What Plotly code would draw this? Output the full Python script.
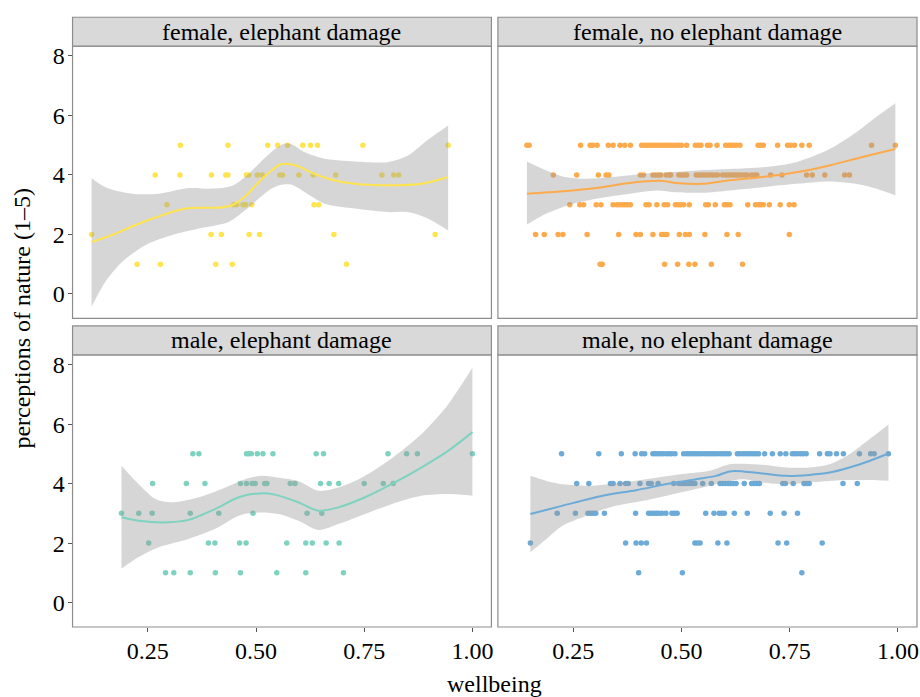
import plotly.graph_objects as go

# ---------------- data ----------------
panel_titles = ["female, elephant damage", "female, no elephant damage",
                "male, elephant damage", "male, no elephant damage"]
panel_colors = ["#FFE44E", "#FDAA4C", "#7DD3BF", "#6CAAD8"]

x_ticks = [0.25, 0.50, 0.75, 1.00]
x_tick_labels = ["0.25", "0.50", "0.75", "1.00"]
y_ticks = [0, 2, 4, 6, 8]
y_tick_labels = ["0", "2", "4", "6", "8"]

# ---- panel 1: female, elephant damage ----
p1_x5 = [0.325, 0.435, 0.527, 0.550, 0.573, 0.608, 0.626, 0.642, 0.747, 0.944]
p1_x4 = [0.267, 0.324, 0.397, 0.430, 0.435, 0.478, 0.483, 0.503, 0.514, 0.555,
         0.561, 0.599, 0.632, 0.684, 0.791, 0.818, 0.830]
p1_x3 = [0.294, 0.448, 0.455, 0.470, 0.476, 0.490, 0.634, 0.645]
p1_x2 = [0.120, 0.396, 0.420, 0.484, 0.508, 0.680, 0.914]
p1_x1 = [0.225, 0.279, 0.407, 0.445, 0.709]
p1_fit_x = [0.120, 0.168, 0.229, 0.337, 0.414, 0.444, 0.475, 0.506, 0.536, 0.556,
            0.575, 0.598, 0.629, 0.675, 0.728, 0.805, 0.882, 0.944]
p1_fit_y = [1.75, 1.98, 2.36, 2.87, 2.90, 2.98, 3.28, 3.76, 4.15, 4.35,
            4.37, 4.29, 4.07, 3.84, 3.70, 3.65, 3.70, 3.93]
p1_up_x = [0.120, 0.152, 0.214, 0.275, 0.345, 0.398, 0.444, 0.475, 0.506, 0.544,
           0.567, 0.586, 0.613, 0.659, 0.728, 0.805, 0.851, 0.890, 0.944]
p1_up_y = [3.89, 3.59, 3.37, 3.37, 3.56, 3.54, 3.63, 3.93, 4.37, 4.87,
           5.06, 5.01, 4.76, 4.54, 4.45, 4.43, 4.65, 5.10, 5.66]
p1_lo_x = [0.120, 0.152, 0.191, 0.244, 0.306, 0.368, 0.437, 0.475, 0.506, 0.536,
           0.559, 0.583, 0.613, 0.659, 0.728, 0.805, 0.851, 0.898, 0.944]
p1_lo_y = [-0.43, 0.41, 1.08, 1.64, 1.98, 2.20, 2.42, 2.81, 3.20, 3.54,
           3.67, 3.67, 3.42, 3.03, 2.87, 2.75, 2.75, 2.53, 2.14]

# ---- panel 2: female, no elephant damage ----
p2_x5 = [0.143, 0.148, 0.267, 0.289, 0.295, 0.305, 0.331, 0.342, 0.358, 0.369,
         0.382, 0.408, 0.414, 0.420, 0.426, 0.432, 0.438, 0.445, 0.451, 0.457,
         0.463, 0.469, 0.475, 0.482, 0.488, 0.494, 0.500, 0.512, 0.532, 0.538,
         0.545, 0.560, 0.566, 0.582, 0.602, 0.608, 0.614, 0.620, 0.626, 0.635,
         0.677, 0.683, 0.689, 0.722, 0.745, 0.752, 0.761, 0.778, 0.795, 0.939, 0.994]
p2_x4 = [0.204, 0.258, 0.308, 0.326, 0.332, 0.405, 0.412, 0.434, 0.440, 0.446,
         0.452, 0.465, 0.471, 0.475, 0.494, 0.500, 0.506, 0.512, 0.534, 0.540,
         0.546, 0.552, 0.558, 0.565, 0.571, 0.577, 0.583, 0.595, 0.602, 0.608,
         0.614, 0.620, 0.626, 0.632, 0.638, 0.645, 0.651, 0.662, 0.668, 0.674,
         0.706, 0.732, 0.789, 0.802, 0.831, 0.877, 0.888]
p2_x3 = [0.242, 0.265, 0.274, 0.303, 0.314, 0.342, 0.351, 0.357, 0.363, 0.369,
         0.375, 0.382, 0.418, 0.425, 0.443, 0.460, 0.468, 0.486, 0.492, 0.498,
         0.505, 0.518, 0.556, 0.562, 0.578, 0.599, 0.605, 0.612, 0.653, 0.671,
         0.677, 0.683, 0.689, 0.703, 0.728, 0.749, 0.760]
p2_x2 = [0.163, 0.183, 0.215, 0.226, 0.282, 0.355, 0.395, 0.405, 0.434, 0.454,
         0.460, 0.466, 0.495, 0.509, 0.518, 0.554, 0.605, 0.631, 0.749]
p2_x1 = [0.312, 0.317, 0.461, 0.491, 0.517, 0.531, 0.569, 0.641]
p2_fit_x = [0.143, 0.226, 0.303, 0.365, 0.411, 0.457, 0.488, 0.549, 0.611, 0.688,
            0.765, 0.842, 0.918, 0.994]
p2_fit_y = [3.37, 3.45, 3.56, 3.70, 3.78, 3.80, 3.73, 3.70, 3.82, 3.93,
            4.09, 4.32, 4.60, 4.87]
p2_up_x = [0.143, 0.188, 0.226, 0.272, 0.342, 0.411, 0.472, 0.534, 0.611, 0.688,
           0.765, 0.842, 0.903, 0.949, 0.994]
p2_up_y = [4.45, 4.15, 3.95, 3.87, 3.93, 4.04, 4.09, 4.15, 4.20, 4.26,
           4.43, 4.87, 5.43, 5.94, 6.41]
p2_lo_x = [0.143, 0.188, 0.242, 0.303, 0.380, 0.442, 0.488, 0.549, 0.611, 0.688,
           0.765, 0.842, 0.903, 0.949, 0.994]
p2_lo_y = [2.33, 2.70, 3.00, 3.20, 3.37, 3.48, 3.42, 3.40, 3.48, 3.59,
           3.70, 3.78, 3.70, 3.54, 3.31]

# ---- panel 3: male, elephant damage ----
p3_x5 = [0.354, 0.368, 0.478, 0.483, 0.489, 0.503, 0.516, 0.539, 0.639, 0.656,
         0.805, 0.848, 0.873, 1.000]
p3_x4 = [0.261, 0.339, 0.382, 0.464, 0.478, 0.491, 0.498, 0.520, 0.525, 0.579,
         0.590, 0.649, 0.669, 0.691, 0.750, 0.794, 0.817]
p3_x3 = [0.189, 0.229, 0.260, 0.348, 0.414, 0.493, 0.618, 0.652]
p3_x2 = [0.252, 0.390, 0.405, 0.462, 0.477, 0.571, 0.615, 0.630, 0.662, 0.692]
p3_x1 = [0.291, 0.310, 0.348, 0.406, 0.464, 0.548, 0.615, 0.702]
p3_fit_x = [0.189, 0.229, 0.298, 0.344, 0.406, 0.460, 0.506, 0.544, 0.598, 0.644,
            0.690, 0.752, 0.813, 0.882, 0.944, 1.000]
p3_fit_y = [2.87, 2.75, 2.70, 2.78, 3.15, 3.54, 3.67, 3.63, 3.37, 3.09,
            3.20, 3.54, 3.98, 4.54, 5.10, 5.73]
p3_up_x = [0.189, 0.229, 0.268, 0.306, 0.368, 0.421, 0.475, 0.513, 0.552, 0.598,
           0.644, 0.690, 0.744, 0.805, 0.882, 0.944, 1.000]
p3_up_y = [4.60, 3.98, 3.48, 3.37, 3.54, 3.82, 4.15, 4.26, 4.20, 4.09,
           3.76, 3.87, 4.20, 4.76, 5.66, 6.66, 7.89]
p3_lo_x = [0.189, 0.229, 0.275, 0.344, 0.406, 0.460, 0.506, 0.552, 0.598, 0.644,
           0.690, 0.752, 0.813, 0.882, 0.944, 1.000]
p3_lo_y = [1.14, 1.53, 1.86, 2.14, 2.48, 2.92, 3.03, 2.98, 2.75, 2.44,
           2.64, 2.98, 3.31, 3.59, 3.65, 3.59]

# ---- panel 4: male, no elephant damage ----
p4_x5 = [0.223, 0.309, 0.361, 0.393, 0.408, 0.415, 0.434, 0.440, 0.446, 0.452,
         0.458, 0.465, 0.471, 0.477, 0.485, 0.505, 0.512, 0.518, 0.524, 0.530,
         0.536, 0.542, 0.548, 0.555, 0.561, 0.567, 0.573, 0.579, 0.585, 0.592,
         0.598, 0.604, 0.610, 0.629, 0.635, 0.642, 0.648, 0.654, 0.660, 0.666,
         0.672, 0.678, 0.692, 0.710, 0.728, 0.741, 0.756, 0.762, 0.768, 0.775,
         0.781, 0.788, 0.819, 0.837, 0.843, 0.858, 0.874, 0.911, 0.937, 0.945, 0.978]
p4_x4 = [0.258, 0.286, 0.336, 0.342, 0.358, 0.371, 0.377, 0.404, 0.424, 0.430,
         0.446, 0.482, 0.494, 0.500, 0.506, 0.512, 0.518, 0.525, 0.531, 0.549,
         0.569, 0.589, 0.595, 0.602, 0.608, 0.614, 0.620, 0.626, 0.645, 0.662,
         0.668, 0.674, 0.680, 0.734, 0.740, 0.758, 0.783, 0.789, 0.795, 0.873, 0.906]
p4_x3 = [0.213, 0.255, 0.284, 0.290, 0.296, 0.302, 0.322, 0.394, 0.424, 0.430,
         0.436, 0.442, 0.448, 0.455, 0.464, 0.478, 0.484, 0.490, 0.556, 0.575,
         0.587, 0.593, 0.599, 0.622, 0.652, 0.705, 0.737, 0.768]
p4_x2 = [0.151, 0.371, 0.395, 0.407, 0.419, 0.531, 0.537, 0.543, 0.584, 0.605,
         0.723, 0.743, 0.825]
p4_x1 = [0.401, 0.502, 0.778]
p4_fit_x = [0.151, 0.226, 0.318, 0.395, 0.472, 0.534, 0.580, 0.611, 0.642, 0.688,
            0.742, 0.795, 0.842, 0.888, 0.934, 0.978]
p4_fit_y = [2.98, 3.26, 3.59, 3.78, 4.00, 4.15, 4.26, 4.41, 4.41, 4.34,
            4.26, 4.29, 4.37, 4.54, 4.76, 5.01]
p4_up_x = [0.151, 0.188, 0.226, 0.288, 0.365, 0.442, 0.503, 0.565, 0.611, 0.642,
           0.688, 0.742, 0.795, 0.842, 0.888, 0.934, 0.978]
p4_up_y = [4.26, 4.09, 3.98, 3.93, 4.04, 4.20, 4.32, 4.43, 4.65, 4.67,
           4.63, 4.54, 4.54, 4.65, 4.99, 5.49, 5.99]
p4_lo_x = [0.151, 0.188, 0.226, 0.272, 0.334, 0.411, 0.488, 0.549, 0.595, 0.642,
           0.688, 0.742, 0.795, 0.842, 0.888, 0.934, 0.978]
p4_lo_y = [1.69, 2.14, 2.59, 2.87, 3.20, 3.42, 3.67, 3.87, 4.04, 4.15,
           4.04, 3.98, 4.04, 4.09, 4.12, 4.12, 4.09]

panels = [
    dict(pts={5: p1_x5, 4: p1_x4, 3: p1_x3, 2: p1_x2, 1: p1_x1},
         fit=(p1_fit_x, p1_fit_y), up=(p1_up_x, p1_up_y), lo=(p1_lo_x, p1_lo_y)),
    dict(pts={5: p2_x5, 4: p2_x4, 3: p2_x3, 2: p2_x2, 1: p2_x1},
         fit=(p2_fit_x, p2_fit_y), up=(p2_up_x, p2_up_y), lo=(p2_lo_x, p2_lo_y)),
    dict(pts={5: p3_x5, 4: p3_x4, 3: p3_x3, 2: p3_x2, 1: p3_x1},
         fit=(p3_fit_x, p3_fit_y), up=(p3_up_x, p3_up_y), lo=(p3_lo_x, p3_lo_y)),
    dict(pts={5: p4_x5, 4: p4_x4, 3: p4_x3, 2: p4_x2, 1: p4_x1},
         fit=(p4_fit_x, p4_fit_y), up=(p4_up_x, p4_up_y), lo=(p4_lo_x, p4_lo_y)),
]

# ---------------- layout ----------------
W, H = 920, 697
FONT = "Liberation Serif, Times New Roman, serif"
FS = 24
BORDER = "#8C8C8C"

x_dom = [[72.7 / W, 492.5 / W], [499.0 / W, 919.0 / W]]
y_dom = [[1 - 316.7 / H, 1 - 43.3 / H], [1 - 626.7 / H, 1 - 353.3 / H]]
x_range = [0.076, 1.044]
y_range = [-0.82, 8.33]

fig = go.Figure()

for i, p in enumerate(panels):
    ax = "" if i == 0 else str(i + 1)
    xr, yr = "x" + ax, "y" + ax
    col = panel_colors[i]
    xs, ys = [], []
    for lvl, arr in p["pts"].items():
        xs += arr
        ys += [lvl] * len(arr)
    fig.add_trace(go.Scatter(x=xs, y=ys, mode="markers", xaxis=xr, yaxis=yr,
                             marker=dict(color=col, size=5.5, line=dict(width=0)),
                             showlegend=False, hoverinfo="skip"))
    ux, uy = list(p["up"][0]), list(p["up"][1])
    lx, ly = list(p["lo"][0]), list(p["lo"][1])
    # duplicate the end vertices so the smoothed outline keeps sharp ends
    poly_x = [ux[0]] + ux + [ux[-1]] + [lx[-1]] + lx[::-1] + [lx[0]] + [ux[0]]
    poly_y = [uy[0]] + uy + [uy[-1]] + [ly[-1]] + ly[::-1] + [ly[0]] + [uy[0]]
    fig.add_trace(go.Scatter(x=poly_x, y=poly_y,
                             mode="lines", fill="toself", xaxis=xr, yaxis=yr,
                             line=dict(width=0, shape="spline", smoothing=0.8),
                             fillcolor="rgba(153,153,153,0.4)",
                             showlegend=False, hoverinfo="skip"))
    fx, fy = p["fit"]
    fig.add_trace(go.Scatter(x=fx, y=fy, mode="lines", xaxis=xr, yaxis=yr,
                             line=dict(color=col, width=2, shape="spline", smoothing=0.8),
                             showlegend=False, hoverinfo="skip"))

layout = dict(width=W, height=H, margin=dict(l=0, r=0, t=0, b=0),
              paper_bgcolor="white", plot_bgcolor="white",
              font=dict(family=FONT, size=FS, color="black"))
shapes, annotations = [], []
for i in range(4):
    row, colm = divmod(i, 2)
    ax = "" if i == 0 else str(i + 1)
    xa = dict(domain=x_dom[colm], range=x_range, showgrid=False, zeroline=False,
              anchor="y" + ax, tickvals=x_ticks, ticktext=x_tick_labels,
              showticklabels=(row == 1), ticks="outside" if row == 1 else "",
              ticklen=4, tickcolor="#555555", tickwidth=1, ticklabelstandoff=-2,
              tickfont=dict(family=FONT, size=FS, color="black"), showline=False)
    ya = dict(domain=y_dom[row], range=y_range, showgrid=False, zeroline=False,
              anchor="x" + ax, tickvals=y_ticks, ticktext=y_tick_labels,
              showticklabels=(colm == 0), ticks="outside" if colm == 0 else "",
              ticklen=4, tickcolor="#555555", tickwidth=1, ticklabelstandoff=-2,
              tickfont=dict(family=FONT, size=FS, color="black"), showline=False)
    layout["xaxis" + ax] = xa
    layout["yaxis" + ax] = ya
    xref, yref = "x" + ax + " domain", "y" + ax + " domain"
    shapes.append(dict(type="rect", xref=xref, yref=yref, x0=0, x1=1, y0=0, y1=1,
                       line=dict(color=BORDER, width=1.2), fillcolor="rgba(0,0,0,0)",
                       layer="above"))
    shapes.append(dict(type="rect", xref=xref, yref=yref, x0=0, x1=1, y0=1.0, y1=1.106,
                       line=dict(color=BORDER, width=1.2), fillcolor="#D9D9D9",
                       layer="above"))
    annotations.append(dict(text=panel_titles[i], xref=xref, yref=yref, x=0.5, y=1.053,
                            showarrow=False, xanchor="center", yanchor="middle",
                            font=dict(family=FONT, size=FS, color="black")))

annotations.append(dict(text="wellbeing", xref="paper", yref="paper",
                        x=(72.7 + 919) / 2 / W, y=1 - 684 / H, showarrow=False,
                        xanchor="center", yanchor="middle",
                        font=dict(family=FONT, size=FS, color="black")))
annotations.append(dict(text="perceptions of nature (1–5)", xref="paper", yref="paper",
                        x=22 / W, y=1 - 316 / H, showarrow=False, textangle=-90,
                        xanchor="center", yanchor="middle",
                        font=dict(family=FONT, size=FS, color="black")))
layout["shapes"] = shapes
layout["annotations"] = annotations
fig.update_layout(**layout)

fig.write_html("out.html", config={"displayModeBar": False},
               post_script="document.body.style.margin='0';"
                           "document.body.style.overflow='hidden';")
